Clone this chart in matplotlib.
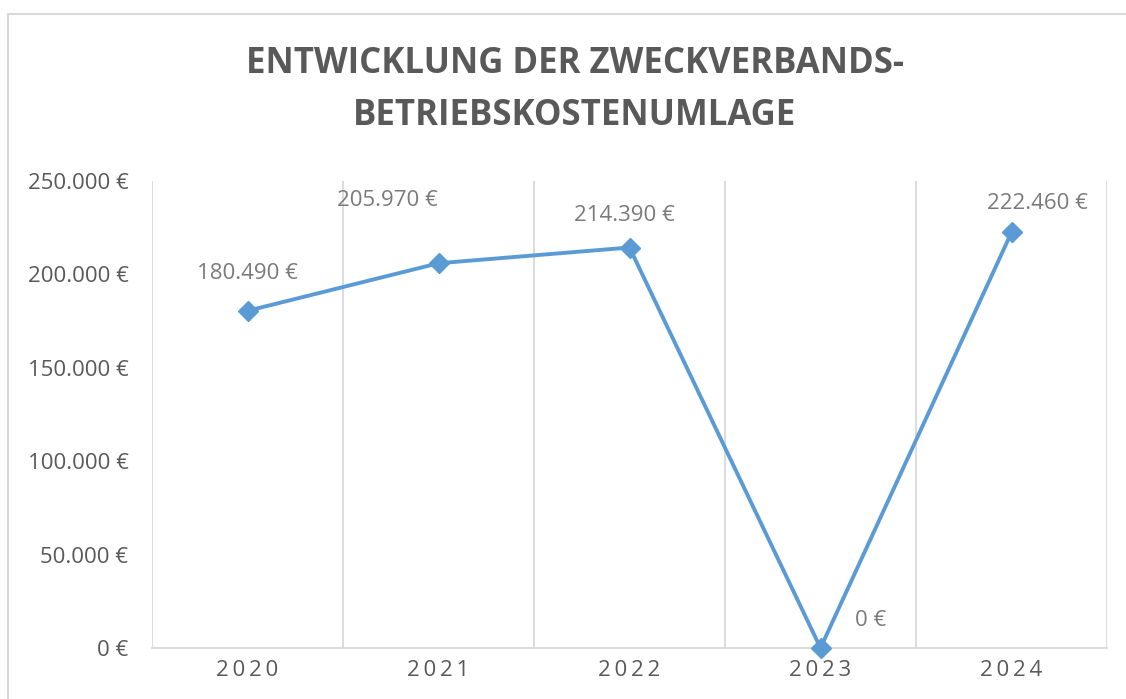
import matplotlib.pyplot as plt
from matplotlib.patches import Rectangle

years = ["2020", "2021", "2022", "2023", "2024"]
kosten = [180490, 205970, 214390, 0, 222460]
y_ticks = [0, 50000, 100000, 150000, 200000, 250000]

title = "ENTWICKLUNG DER ZWECKVERBANDS-\nBETRIEBSKOSTENUMLAGE"


def euro(v):
    return f"{v:,.0f} €".replace(",", ".")


plt.rcParams['font.family'] = ['Open Sans', 'DejaVu Sans']

fig = plt.figure(figsize=(11.26, 6.99), dpi=100)
ax = fig.add_axes([152 / 1126, 1 - 648 / 699, (1107 - 152) / 1126, (648 - 181) / 699])

# outer chart border (cut off at right and bottom)
fig.patches.append(Rectangle((8 / 1126, -0.1), 1.2, 1.1 - 14 / 699, transform=fig.transFigure,
                             fill=False, edgecolor='#d9d9d9', linewidth=1.5, zorder=0))

xs = [i + 0.5 for i in range(len(years))]
blue = '#5b9bd5'
ax.plot(xs, kosten, color=blue, linewidth=2.8, marker='D', markersize=10.5,
        clip_on=False, zorder=5)

# data labels, placed like in the original chart
offsets = [(0, 27), (-37, 45), (-4, 23), (36, 20), (19, 21)]
for x, v, (dx, dy) in zip(xs, kosten, offsets):
    ax.annotate(euro(v), (x, v), xytext=(dx, dy), textcoords='offset points',
                ha='center', va='center', fontsize=16, color='#7a7a7a')

ax.set_xlim(0, len(years))
ax.set_ylim(0, 250000)
ax.set_xticks(xs)
# category labels are letter-spaced in the original
ax.set_xticklabels(["\u2009".join(y) for y in years])
ax.set_xticks(range(len(years) + 1), minor=True)
ax.set_yticks(y_ticks)
ax.set_yticklabels([euro(v) for v in y_ticks])
ax.tick_params(axis='both', which='both', length=0, labelsize=16, colors='#595959')
ax.tick_params(axis='x', pad=9)
ax.tick_params(axis='y', pad=17)
ax.grid(axis='x', which='minor', color='#d9d9d9', linewidth=1.3)
for s in ['top', 'right', 'left']:
    ax.spines[s].set_visible(False)
ax.spines['bottom'].set_color('#d9d9d9')
ax.spines['bottom'].set_linewidth(1.3)

fig.text(575 / 1126, 1 - 90 / 699, title, ha='center', va='center', fontsize=25,
         fontweight='bold', color='#595959', linespacing=1.6)

fig.savefig('out.png', dpi=100)
